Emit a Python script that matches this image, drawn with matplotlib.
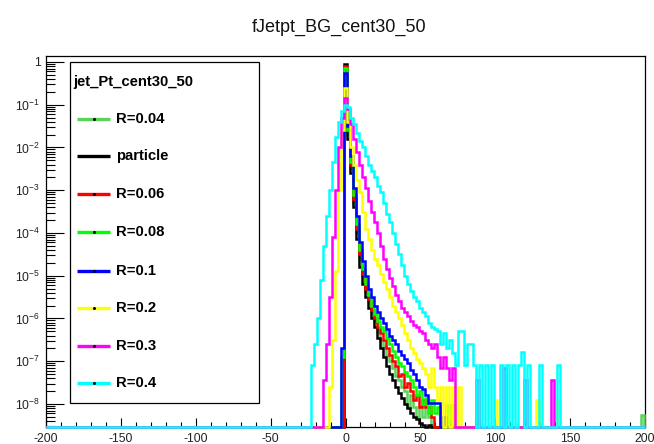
import numpy as np
import matplotlib
matplotlib.use('Agg')
import matplotlib.pyplot as plt
from matplotlib.ticker import FixedLocator, NullFormatter, LogLocator
from matplotlib.lines import Line2D
from matplotlib.patches import Rectangle

plt.rcParams['font.family'] = ['Liberation Sans', 'DejaVu Sans']
plt.rcParams['mathtext.fontset'] = 'custom'
plt.rcParams['mathtext.rm'] = 'Liberation Sans'
plt.rcParams['mathtext.it'] = 'Liberation Sans:italic'
plt.rcParams['mathtext.bf'] = 'Liberation Sans:bold'
plt.rcParams['axes.unicode_minus'] = False

# ---------------- data (log10 of bin content, bin width 2, listed from a first bin centre) ----
title = 'fJetpt_BG_cent30_50'
legend_header = 'jet_Pt_cent30_50'
series_labels = ['R=0.04', 'particle', 'R=0.06', 'R=0.08', 'R=0.1', 'R=0.2', 'R=0.3', 'R=0.4']
series_colors = ['#5bd35b', '#000000', '#ff0000', '#00ff00', '#0000ff', '#ffff00', '#ff00ff', '#00ffff']

start_r004 = 0
log_r004 = [-0.1, -1.7, -2.5, -3.3, -4.0, -4.6, -5.0, -5.35, -5.6, -5.85,
            -6.05, -6.3, -6.5, -6.65, -6.85, -7.0, -7.15, -7.35, -7.45, -7.6,
            -7.7, -8.06, -7.8, -8.06, -8.3, -8.06, -8.3, -8.06, -8.3]
spike_x_r004 = [198]
spike_log_r004 = [-8.26]

start_particle = 0
log_particle = [-0.05, -1.8, -2.6, -3.4, -4.15, -4.8, -5.2, -5.5, -5.75, -6.0,
                -6.2, -6.45, -6.7, -6.9, -7.1, -7.3, -7.45, -7.6, -7.75, -7.85,
                -8.0, -8.1, -8.2, -8.3, -8.35, -8.45, -8.5, None, -8.5]

start_r006 = 0
log_r006 = [-0.1, -1.6, -2.4, -3.2, -3.9, -4.5, -4.95, -5.3, -5.55, -5.8,
            -6.0, -6.2, -6.35, -6.5, -6.7, -6.85, -7.0, -7.1, -7.35, -7.3,
            -7.6, -7.5, -7.7, -7.9, -7.8, -8.06, -7.9, -8.06, -8.06, -8.3]

start_r008 = -2
log_r008 = [-6.9, -0.15, -1.6, -2.35, -3.1, -3.8, -4.4, -4.85, -5.2, -5.45,
            -5.7, -5.9, -6.05, -6.2, -6.3, -6.45, -6.6, -6.75, -6.9, -7.05,
            -7.1, -7.25, -7.35, -7.45, -7.6, -7.8, -7.7, -8.0, -7.85, -8.2,
            -7.9, -8.2, -8.06, None, None, -8.03, None, -8.03]

start_r01 = -2
log_r01 = [-6.7, -0.25, -1.5, -2.2, -2.95, -3.6, -4.2, -4.65, -5.0, -5.3,
           -5.5, -5.7, -5.85, -6.0, -6.1, -6.25, -6.4, -6.5, -6.6, -6.75,
           -6.85, -6.95, -7.05, -7.2, -7.3, -7.45, -7.6, -7.65, -7.8, -7.98,
           -7.98, -7.98, -7.98, None, -8.3, None, None, None, None, None,
           None, None, None, None, None, -8.4]

start_r02 = -10
log_r02 = [-7.6, -6.5, -4.9, -3.0, -1.6, -0.6, -1.4, -2.0, -2.4, -2.75,
           -3.05, -3.5, -3.9, -4.15, -4.4, -4.6, -4.75, -4.95, -5.15, -5.3,
           -5.5, -5.7, -5.85, -6.0, -6.15, -6.35, -6.5, -6.7, -6.8, -6.95,
           -7.05, -7.15, -7.3, -7.6, -7.15, -7.6, -7.9, -7.6, None, -7.6,
           None, -7.6, None, -7.6, None, None, None, None, None, -7.9,
           None, None, None, None, None, -7.9, None, None, None, None,
           None, None, None, None, None, None, None, None, None, -7.9,
           None, None, None, None, None, None, -7.9]

start_r03 = -14
log_r03 = [-7.45, -6.6, -5.5, -4.1, -3.0, -2.0, -1.3, -0.85, -1.1, -1.45,
           -1.8, -2.1, -2.4, -2.7, -2.95, -3.25, -3.5, -3.75, -4.0, -4.3,
           -4.6, -4.85, -5.05, -5.25, -5.45, -5.6, -5.75, -5.85, -5.95, -6.05,
           -6.15, -6.2, -6.3, -6.35, -6.5, -6.6, -6.7, -6.6, -6.9, -7.15,
           -6.9, -7.15, -7.45, -7.15, None, None, None, None, None, None,
           None, -7.45, None, None, None, None, None, None, None, None,
           -7.15, None, None, None, None, None, None, -7.45, None, None,
           None, None, None, None, None, None, -7.45]

start_r04 = -22
log_r04 = [-7.09, -6.6, -6.0, -5.1, -4.3, -3.6, -3.0, -2.35, -1.75, -1.4,
           -1.15, -1.0, -1.05, -1.3, -1.45, -1.65, -1.85, -2.0, -2.2, -2.4,
           -2.55, -2.7, -2.9, -3.05, -3.3, -3.55, -3.75, -4.0, -4.25, -4.5,
           -4.75, -5.0, -5.2, -5.35, -5.5, -5.6, -5.75, -5.85, -5.95, -6.1,
           -6.2, -6.25, -6.3, -6.6, -6.35, -6.7, -6.5, -6.8, -7.09, -6.3,
           -6.3, -7.09, -6.6, -6.6, -7.09, None, -7.09, None, -7.09, None,
           -7.09, None, None, -7.09, None, -7.09, None, -7.09, None, -7.09,
           -6.79, None, -7.09, None, None, None, -7.09, None, None, None,
           None, None, -7.09]

series_starts = [start_r004, start_particle, start_r006, start_r008, start_r01,
                 start_r02, start_r03, start_r04]
series_logs = [log_r004, log_particle, log_r006, log_r008, log_r01,
               log_r02, log_r03, log_r04]
series_spike_x = [spike_x_r004, [], [], [], [], [], [], []]
series_spike_log = [spike_log_r004, [], [], [], [], [], [], []]

x_tick_values = [-200, -150, -100, -50, 0, 50, 100, 150, 200]
y_tick_values = [1, 1e-1, 1e-2, 1e-3, 1e-4, 1e-5, 1e-6, 1e-7, 1e-8]
y_tick_labels = ['1'] + ['$10^{-%d}$' % n for n in range(1, 9)]

# ---------------- figure ----------------
W, H = 654, 444
fig = plt.figure(figsize=(W / 100, H / 100), dpi=100)
fig.patch.set_facecolor('white')
ax_l, ax_r, ax_t, ax_b = 46, 645, 56, 427
ax = fig.add_axes([ax_l / W, 1 - ax_b / H, (ax_r - ax_l) / W, (ax_b - ax_t) / H])

ymin, ymax = 10 ** -8.538, 10 ** 0.14
ax.set_yscale('log')
ax.set_xlim(-200, 200)
ax.set_ylim(ymin, ymax)

edges = np.concatenate(([-200], np.arange(-199, 200, 2), [200]))
nbins = len(edges) - 1


def build(start, logs, sx, slog):
    vals = np.full(nbins, ymin)
    for i, L in enumerate(logs):
        if L is not None:
            k = (start + 2 * i) // 2 + 100
            vals[k] = 10 ** L
    for c, L in zip(sx, slog):
        vals[c // 2 + 100] = 10 ** L
    return vals


for lab, col, st, lg, sx, sl in zip(series_labels, series_colors, series_starts,
                                     series_logs, series_spike_x, series_spike_log):
    v = build(st, lg, sx, sl)
    ax.stairs(v, edges, baseline=None, color=col, lw=1.8, zorder=3, clip_on=False)

for s in ax.spines.values():
    s.set_linewidth(0.9)
    s.set_color('black')

ax.set_xticks(x_tick_values)
ax.set_xticklabels([str(v) for v in x_tick_values])
ax.xaxis.set_minor_locator(FixedLocator(np.arange(-200, 201, 10)))
ax.set_yticks(y_tick_values)
ax.set_yticklabels(y_tick_labels)
ax.yaxis.set_minor_locator(LogLocator(base=10, subs=np.arange(2, 10), numticks=30))
ax.yaxis.set_minor_formatter(NullFormatter())

ax.tick_params(axis='y', which='major', direction='in', length=13, width=0.8,
               labelsize=8.8, pad=4, colors='black', labelcolor='#222222')
ax.tick_params(axis='y', which='minor', direction='in', length=6.5, width=0.8)
ax.tick_params(axis='x', which='major', direction='in', length=6.5, width=0.8,
               labelsize=8.8, pad=4, labelcolor='#222222')
ax.tick_params(axis='x', which='minor', direction='in', length=3.3, width=0.8)

# title
fig.text(339 / W, 1 - 27 / H, title, ha='center', va='center', fontsize=13, color='#111111')

# legend (drawn in figure pixel coordinates)
def fx(x):
    return x / W


def fy(y):
    return 1 - y / H


box = Rectangle((fx(70), fy(403)), (259 - 70) / W, (403 - 62) / H, transform=fig.transFigure,
                facecolor='white', edgecolor='black', lw=0.9, zorder=5)
fig.add_artist(box)
fig.text(fx(73), fy(82), legend_header, ha='left', va='center', fontsize=10.7,
         fontweight='bold', zorder=6)
entry_y = [119, 156, 194, 232, 271, 308, 346, 383]
for lab, col, yy in zip(series_labels, series_colors, entry_y):
    fig.add_artist(Line2D([fx(77), fx(110)], [fy(yy), fy(yy)], transform=fig.transFigure,
                          color=col, lw=2.4, solid_capstyle='butt', zorder=6))
    fig.add_artist(Line2D([fx(93.5)], [fy(yy)], transform=fig.transFigure, marker='o',
                          ms=1.2, color='black', lw=0, zorder=7))
    fig.text(fx(116), fy(yy), lab, ha='left', va='center', fontsize=10.7,
             fontweight='bold', zorder=6)

fig.savefig('out.png', dpi=100, facecolor='white')
